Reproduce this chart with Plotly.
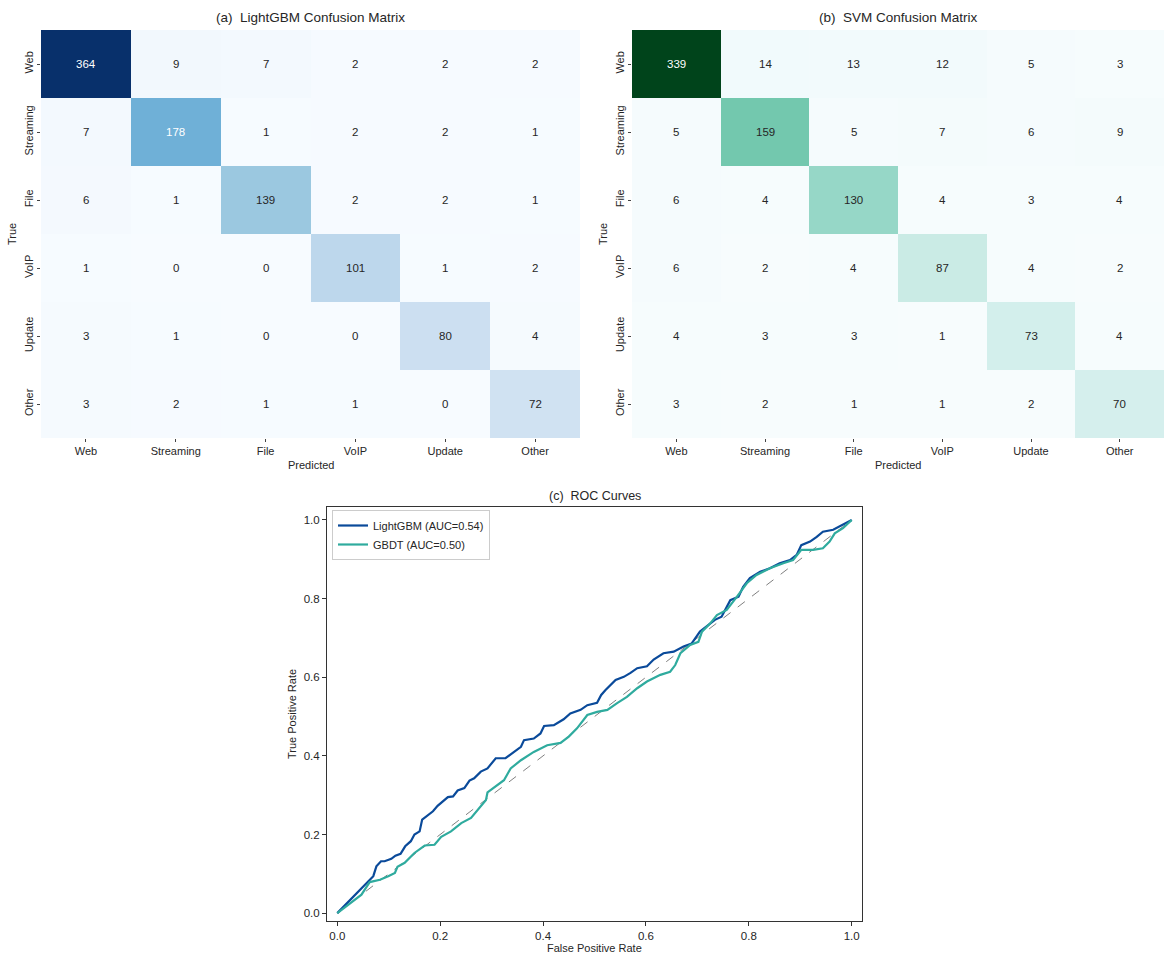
import plotly.graph_objects as go

# ---------------- data ----------------
classes = ["Web", "Streaming", "File", "VoIP", "Update", "Other"]

cm_lightgbm = [
    [364, 9, 7, 2, 2, 2],
    [7, 178, 1, 2, 2, 1],
    [6, 1, 139, 2, 2, 1],
    [1, 0, 0, 101, 1, 2],
    [3, 1, 0, 0, 80, 4],
    [3, 2, 1, 1, 0, 72],
]
cm_svm = [
    [339, 14, 13, 12, 5, 3],
    [5, 159, 5, 7, 6, 9],
    [6, 4, 130, 4, 3, 4],
    [6, 2, 4, 87, 4, 2],
    [4, 3, 3, 1, 73, 4],
    [3, 2, 1, 1, 2, 70],
]

lgbm_fpr = [0.0, 0.070, 0.076, 0.085, 0.092, 0.105, 0.113, 0.123, 0.132, 0.143, 0.150, 0.160,
            0.165, 0.176, 0.186, 0.195, 0.205, 0.215, 0.225, 0.234, 0.247, 0.257, 0.266, 0.279,
            0.292, 0.308, 0.327, 0.344, 0.357, 0.363, 0.382, 0.395, 0.402, 0.421, 0.440, 0.453,
            0.473, 0.486, 0.505, 0.513, 0.521, 0.541, 0.557, 0.570, 0.583, 0.602, 0.615, 0.634,
            0.654, 0.673, 0.689, 0.705, 0.722, 0.734, 0.747, 0.764, 0.780, 0.789, 0.802, 0.822,
            0.841, 0.860, 0.880, 0.893, 0.902, 0.919, 0.932, 0.944, 0.964, 0.980, 1.0]
lgbm_tpr = [0.0, 0.094, 0.119, 0.132, 0.132, 0.138, 0.146, 0.151, 0.170, 0.183, 0.200, 0.208,
            0.238, 0.250, 0.259, 0.273, 0.284, 0.295, 0.297, 0.312, 0.318, 0.337, 0.343, 0.360,
            0.368, 0.394, 0.394, 0.410, 0.423, 0.440, 0.444, 0.457, 0.476, 0.478, 0.493, 0.508,
            0.517, 0.529, 0.535, 0.555, 0.567, 0.593, 0.601, 0.611, 0.623, 0.628, 0.645, 0.661,
            0.665, 0.678, 0.686, 0.716, 0.733, 0.746, 0.754, 0.796, 0.805, 0.830, 0.852, 0.868,
            0.877, 0.890, 0.898, 0.911, 0.936, 0.945, 0.957, 0.970, 0.975, 0.987, 1.0]

gbdt_fpr = [0.0, 0.047, 0.063, 0.083, 0.099, 0.112, 0.117, 0.131, 0.150, 0.170, 0.189, 0.202,
            0.221, 0.241, 0.260, 0.279, 0.289, 0.292, 0.305, 0.324, 0.337, 0.357, 0.382, 0.408,
            0.434, 0.450, 0.466, 0.486, 0.505, 0.525, 0.544, 0.563, 0.583, 0.602, 0.628, 0.647,
            0.657, 0.667, 0.686, 0.702, 0.709, 0.725, 0.738, 0.757, 0.777, 0.796, 0.815, 0.841,
            0.867, 0.886, 0.902, 0.925, 0.944, 0.957, 0.967, 0.983, 1.0]
gbdt_tpr = [0.0, 0.047, 0.079, 0.085, 0.094, 0.102, 0.118, 0.128, 0.153, 0.172, 0.174, 0.194,
            0.208, 0.229, 0.242, 0.271, 0.288, 0.307, 0.320, 0.338, 0.368, 0.389, 0.410, 0.427,
            0.433, 0.449, 0.470, 0.504, 0.512, 0.517, 0.534, 0.550, 0.572, 0.589, 0.606, 0.614,
            0.631, 0.661, 0.682, 0.690, 0.716, 0.737, 0.758, 0.771, 0.805, 0.839, 0.860, 0.877,
            0.890, 0.898, 0.924, 0.924, 0.928, 0.945, 0.966, 0.979, 1.0]

auc_lgbm = 0.54
auc_gbdt = 0.50

# ---------------- styling ----------------
W, H = 1164, 954
FONT = "Liberation Sans, Arial, Helvetica, sans-serif"
TXT = "#262626"

blues = ["#f7fbff", "#deebf7", "#c6dbef", "#9ecae1", "#6baed6", "#4292c6", "#2171b5", "#08519c", "#08306b"]
bugn = ["#f7fcfd", "#e5f5f9", "#ccece6", "#99d8c9", "#66c2a4", "#41ae76", "#238b45", "#006d2c", "#00441b"]


def scale(cols):
    n = len(cols) - 1
    return [[i / n, c] for i, c in enumerate(cols)]


def hex2rgb(h):
    h = h.lstrip("#")
    return [int(h[i:i + 2], 16) for i in (0, 2, 4)]


def interp(cols, t):
    t = min(max(t, 0.0), 1.0)
    n = len(cols) - 1
    i = min(int(t * n), n - 1)
    f = t * n - i
    a, b = hex2rgb(cols[i]), hex2rgb(cols[i + 1])
    return [a[k] + (b[k] - a[k]) * f for k in range(3)]


def lum(rgb):
    out = []
    for v in rgb:
        v = v / 255
        out.append(v / 12.92 if v <= 0.03928 else ((v + 0.055) / 1.055) ** 2.4)
    return 0.2126 * out[0] + 0.7152 * out[1] + 0.0722 * out[2]


def px_x(p):
    return p / W


def px_y(p):
    return 1 - p / H


fig = go.Figure()
annotations = []

panels = [
    (cm_lightgbm, blues, "x", "y", "(a)  LightGBM Confusion Matrix", (41, 580)),
    (cm_svm, bugn, "x2", "y2", "(b)  SVM Confusion Matrix", (632, 1164)),
]
for cm, cols, xa, ya, title, (x0, x1) in panels:
    flat = [v for r in cm for v in r]
    zmin, zmax = min(flat), max(flat)
    fig.add_trace(go.Heatmap(
        z=cm, x=classes, y=classes, colorscale=scale(cols), zmin=zmin, zmax=zmax,
        showscale=False, xaxis=xa, yaxis=ya, hoverinfo="z", xgap=0, ygap=0,
    ))
    for i, row in enumerate(cm):
        for j, v in enumerate(row):
            c = interp(cols, (v - zmin) / (zmax - zmin))
            tc = "white" if lum(c) < 0.408 else TXT
            annotations.append(dict(x=classes[j], y=classes[i], xref=xa, yref=ya, text=str(v),
                                    showarrow=False, font=dict(size=11.5, color=tc, family=FONT)))
    xc = (x0 + x1) / 2
    annotations.append(dict(x=px_x(xc), y=px_y(17), xref="paper", yref="paper", text=title,
                            showarrow=False, font=dict(size=13.5, color=TXT, family=FONT),
                            xanchor="center", yanchor="middle"))
    annotations.append(dict(x=px_x(xc), y=px_y(465), xref="paper", yref="paper", text="Predicted",
                            showarrow=False, font=dict(size=11, color=TXT, family=FONT),
                            xanchor="center", yanchor="middle"))
    annotations.append(dict(x=px_x(x0 - 29), y=px_y(234), xref="paper", yref="paper", text="True",
                            showarrow=False, textangle=-90, font=dict(size=11, color=TXT, family=FONT),
                            xanchor="center", yanchor="middle"))

# ROC curves
fig.add_trace(go.Scatter(x=[0, 1], y=[0, 1], mode="lines", xaxis="x3", yaxis="y3",
                         line=dict(color="#808080", width=1, dash="dash"), showlegend=False,
                         hoverinfo="skip"))
fig.add_trace(go.Scatter(x=lgbm_fpr, y=lgbm_tpr, mode="lines", xaxis="x3", yaxis="y3",
                         name=f"LightGBM (AUC={auc_lgbm:.2f})",
                         line=dict(color="#0a4a9a", width=2.2)))
fig.add_trace(go.Scatter(x=gbdt_fpr, y=gbdt_tpr, mode="lines", xaxis="x3", yaxis="y3",
                         name=f"GBDT (AUC={auc_gbdt:.2f})",
                         line=dict(color="#2fab9e", width=2.2)))

annotations.append(dict(x=px_x(594.5), y=px_y(496), xref="paper", yref="paper", text="(c)  ROC Curves",
                        showarrow=False, font=dict(size=12.5, color=TXT, family=FONT),
                        xanchor="center", yanchor="middle"))
annotations.append(dict(x=px_x(594.5), y=px_y(948), xref="paper", yref="paper", text="False Positive Rate",
                        showarrow=False, font=dict(size=11, color=TXT, family=FONT),
                        xanchor="center", yanchor="middle"))
annotations.append(dict(x=px_x(292), y=px_y(714), xref="paper", yref="paper", text="True Positive Rate",
                        showarrow=False, textangle=-90, font=dict(size=11, color=TXT, family=FONT),
                        xanchor="center", yanchor="middle"))

hm_axis = dict(showgrid=False, zeroline=False, ticks="outside", ticklen=3, tickcolor="#444",
               showline=False, tickfont=dict(size=11, color=TXT, family=FONT), automargin=False)
ydom = [px_y(438), px_y(30)]

roc_axis = dict(showgrid=False, zeroline=False, ticks="outside", ticklen=4, tickcolor="#333",
                showline=True, linecolor="#333", linewidth=1, mirror=True,
                tickfont=dict(size=11.5, color=TXT, family=FONT), automargin=False,
                tickvals=[0, 0.2, 0.4, 0.6, 0.8, 1.0], tickformat=".1f")

fig.update_layout(
    width=W, height=H,
    margin=dict(l=0, r=0, t=0, b=0),
    paper_bgcolor="white", plot_bgcolor="white",
    font=dict(family=FONT, color=TXT),
    xaxis=dict(hm_axis, domain=[px_x(41), px_x(580)], anchor="y"),
    yaxis=dict(hm_axis, domain=ydom, anchor="x", autorange="reversed", tickangle=-90),
    xaxis2=dict(hm_axis, domain=[px_x(632), 1.0], anchor="y2"),
    yaxis2=dict(hm_axis, domain=ydom, anchor="x2", autorange="reversed", tickangle=-90),
    xaxis3=dict(roc_axis, domain=[px_x(327), px_x(862)], anchor="y3", range=[-0.02, 1.02]),
    yaxis3=dict(roc_axis, domain=[px_y(921), px_y(507)], anchor="x3", range=[-0.02, 1.033]),
    legend=dict(x=px_x(332), y=px_y(510), xanchor="left", yanchor="top",
                bgcolor="rgba(255,255,255,0.85)", bordercolor="#cccccc", borderwidth=1,
                font=dict(size=11, color=TXT, family=FONT), tracegroupgap=0,
                itemwidth=30),
    annotations=annotations,
)

fig.write_html("out.html")
